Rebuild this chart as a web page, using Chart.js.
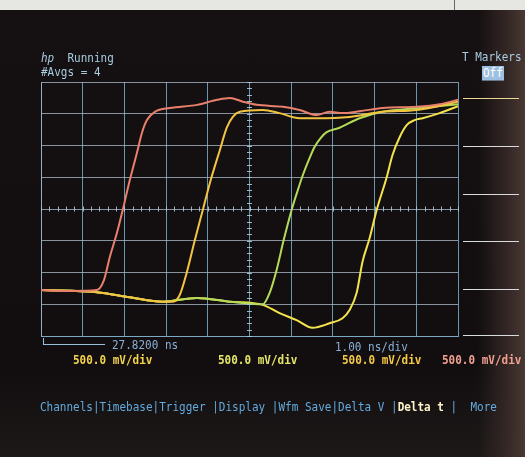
<!DOCTYPE html>
<html><head><meta charset="utf-8">
<script src="https://cdn.jsdelivr.net/npm/chart.js@4"></script>
<style>
html,body{margin:0;padding:0;width:525px;height:457px;overflow:hidden;background:#120e0f;}
#bg{position:absolute;left:0;top:0;width:525px;height:457px;background:
 linear-gradient(to right, rgba(0,0,0,0) 0px, rgba(0,0,0,0) 478px, rgba(58,44,41,0.9) 510px, rgba(72,56,52,1) 525px),
 linear-gradient(to bottom, #151011 0px, #120e0f 370px, #1d1919 457px);}
#top{position:absolute;left:0;top:0;width:525px;height:10px;background:#e6e6e3;}
#topline{position:absolute;left:454px;top:0;width:1px;height:10px;background:#666;}
canvas{position:absolute;left:0;top:0;}
.t{position:absolute;font-family:"DejaVu Sans Mono",monospace;font-size:11px;line-height:11px;white-space:pre;transform:scaleY(1.12);transform-origin:0 0;}
.sk{position:absolute;left:463px;width:56px;height:1px;background:#d8dcdc;}
</style></head>
<body>
<div id="bg"></div>
<div id="top"></div><div id="topline"></div>
<canvas id="c" width="525" height="457"></canvas>

<div class="t" style="left:41px;top:52px;color:#a8cce0;"><i>hp</i>  Running</div>
<div class="t" style="left:41px;top:66px;color:#a8cce0;">#Avgs = 4</div>
<div class="t" style="left:462px;top:51px;color:#a8cce0;">T Markers</div>
<div class="t" style="left:482px;top:66px;color:#ffffff;background:#9dbfe2;padding:1px 1px;">Off</div>

<div class="sk" style="top:98px;background:#e8d890;"></div>
<div class="sk" style="top:146px;"></div>
<div class="sk" style="top:194px;"></div>
<div class="sk" style="top:241px;"></div>
<div class="sk" style="top:289px;"></div>
<div class="sk" style="top:335px;"></div>

<div style="position:absolute;left:43px;top:338px;width:1px;height:7px;background:#9ac0e0;"></div>
<div style="position:absolute;left:43px;top:344px;width:62px;height:1px;background:#9ac0e0;"></div>
<div class="t" style="left:112px;top:339px;color:#8ab0d8;">27.8200 ns</div>
<div class="t" style="left:335px;top:341px;color:#8ab0d8;">1.00 ns/div</div>

<div class="t" style="left:73px;top:354px;color:#f2d24a;font-weight:bold;">500.0 mV/div</div>
<div class="t" style="left:218px;top:354px;color:#e4e46a;font-weight:bold;">500.0 mV/div</div>
<div class="t" style="left:342px;top:354px;color:#f4c848;font-weight:bold;">500.0 mV/div</div>
<div class="t" style="left:442px;top:354px;color:#f0a090;font-weight:bold;">500.0 mV/div</div>

<div class="t" style="left:40px;top:401px;color:#62aadc;">Channels|Timebase|Trigger |Display |Wfm Save|Delta V |<span style="color:#fff4c8;font-weight:bold;">Delta t</span> |  More</div>

<script>
// time in ns (1 ns/div), voltage in V (500 mV/div)
const timeCh4 = [0,0.69,1.34,1.51,1.65,1.82,1.96,2.13,2.30,2.42,2.54,2.73,3.09,3.74,4.22,4.53,4.84,5.17,5.80,6.20,6.61,6.92,7.23,7.64,8.19,9.01,9.56,10];
const voltCh4 = [-1.276,-1.29,-1.276,-1.12,-0.756,-0.378,-0.016,0.457,0.882,1.197,1.40,1.53,1.59,1.64,1.72,1.75,1.69,1.64,1.61,1.56,1.48,1.53,1.51,1.54,1.59,1.61,1.65,1.72];

const timeCh2 = [0,1.34,2.13,2.92,3.16,3.33,3.50,3.69,3.88,4.07,4.29,4.455,4.60,4.77,5.32,5.72,6.20,6.61,7.40,8.19,9.01,10];
const voltCh2 = [-1.276,-1.31,-1.39,-1.46,-1.46,-1.35,-0.99,-0.49,-0.016,0.457,0.93,1.28,1.45,1.53,1.56,1.51,1.43,1.43,1.45,1.53,1.56,1.69];

const timeCh3 = [0,1.34,2.13,2.92,3.74,4.53,5.32,5.49,5.65,5.82,6.01,6.16,6.28,6.44,6.56,6.71,6.85,7.16,7.64,8.19,9.08,10];
const voltCh3 = [-1.276,-1.31,-1.39,-1.46,-1.40,-1.46,-1.50,-1.31,-0.96,-0.49,-0.016,0.30,0.535,0.80,0.976,1.12,1.21,1.28,1.43,1.53,1.59,1.65];

const timeCh1 = [0,1.34,2.13,2.92,3.74,4.53,5.32,5.72,6.13,6.51,6.92,7.23,7.40,7.57,7.71,7.88,8.05,8.29,8.43,8.60,8.77,8.96,9.15,9.56,10];
const voltCh1 = [-1.276,-1.31,-1.39,-1.46,-1.40,-1.46,-1.51,-1.64,-1.75,-1.87,-1.80,-1.72,-1.59,-1.32,-0.83,-0.46,-0.016,0.50,0.85,1.13,1.32,1.40,1.43,1.51,1.62];

const channelNames = ['Channel 4','Channel 2','Channel 3','Channel 1'];
const channelColors = ['#e8806c','#f2c442','#b4dc58','#f4e44c'];

function pts(t,v){return t.map((x,i)=>({x:x,y:v[i]}));}
const series = [pts(timeCh4,voltCh4),pts(timeCh2,voltCh2),pts(timeCh3,voltCh3),pts(timeCh1,voltCh1)];

const minorTicks = {
  id:'minorTicks',
  afterDraw(chart){
    const ctx=chart.ctx, xs=chart.scales.x, ys=chart.scales.y;
    const y0=ys.getPixelForValue(0), x0=xs.getPixelForValue(5);
    ctx.save();
    ctx.strokeStyle='rgba(170,200,220,0.9)';
    ctx.lineWidth=1;
    ctx.beginPath();
    for(let i=0;i<=50;i++){
      const x=Math.round(xs.getPixelForValue(i*0.2))+0.5;
      ctx.moveTo(x,y0-2.5);ctx.lineTo(x,y0+2.5);
    }
    for(let j=0;j<=40;j++){
      const y=Math.round(ys.getPixelForValue(-2+j*0.1))+0.5;
      ctx.moveTo(x0-2.5,y);ctx.lineTo(x0+2.5,y);
    }
    ctx.stroke();
    ctx.restore();
  }
};

new Chart(document.getElementById('c'),{
  type:'line',
  data:{datasets:series.map((d,i)=>({
    label:channelNames[i],data:d,borderColor:channelColors[i],borderWidth:2,
    pointRadius:0,cubicInterpolationMode:'monotone',fill:false
  }))},
  options:{
    responsive:false,animation:false,
    layout:{padding:{left:41,top:82,right:67,bottom:121}},
    plugins:{legend:{display:false},tooltip:{enabled:false}},
    scales:{
      x:{type:'linear',min:0,max:10,
         ticks:{display:false,stepSize:1},
         grid:{color:'rgba(120,175,205,0.85)',lineWidth:1,drawTicks:false},
         border:{display:true,color:'rgba(120,175,205,0.85)'}},
      y:{type:'linear',min:-2,max:2,
         ticks:{display:false,stepSize:0.5},
         grid:{color:'rgba(165,180,195,0.8)',lineWidth:1,drawTicks:false},
         border:{display:true,color:'rgba(165,180,195,0.8)'}}
    }
  },
  plugins:[minorTicks]
});
</script>
</body></html>
